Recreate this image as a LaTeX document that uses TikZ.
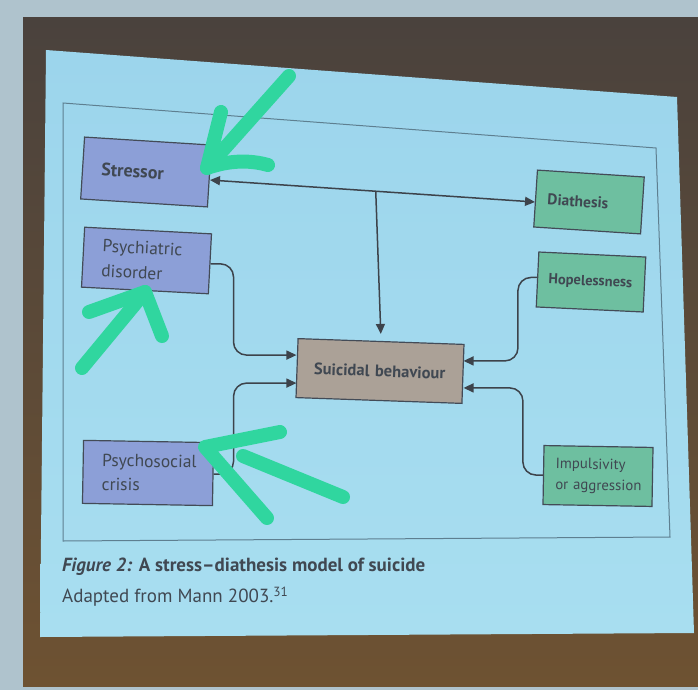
\documentclass[tikz,border=0pt]{standalone}
\usepackage{fontspec}
\setmainfont{PT Sans}
\usetikzlibrary{arrows.meta}
\definecolor{bgtex}{HTML}{AFC3CD}
\definecolor{brownTop}{HTML}{4A423D}
\definecolor{brownBot}{HTML}{6E5232}
\definecolor{screenTop}{HTML}{9CD5EC}
\definecolor{screenBot}{HTML}{A8DEF0}
\definecolor{framec}{HTML}{5E7F90}
\definecolor{boxline}{HTML}{434B57}
\definecolor{txt}{HTML}{404852}
\definecolor{blueb}{HTML}{8C9FD7}
\definecolor{greenb}{HTML}{6EBFA0}
\definecolor{taupe}{HTML}{ABA197}
\definecolor{conn}{HTML}{3D434B}
\definecolor{annot}{HTML}{30D69F}
\tikzset{
  box/.style={draw=boxline, line width=1.2pt, text=txt, inner ysep=0pt,
    align=left, font=\fontsize{14.5}{22}\selectfont},
  conn/.style={draw=conn, line width=1.5pt, rounded corners=13pt,
    -{Triangle[length=10pt,width=9pt]}},
  ann/.style={draw=annot, line width=14pt, line cap=round, line join=round},
  captext/.style={anchor=west, inner sep=0pt, text=txt}
}
\begin{document}
\begin{tikzpicture}[x=1pt,y=-1pt]
\useasboundingbox (0,0) rectangle (698,690);
\fill[bgtex] (0,0) rectangle (698,690);
\shade[top color=brownTop,bottom color=brownBot] (23,18) rectangle (698,686);
\shade[top color=screenTop,bottom color=screenBot]
  (46,50) -- (677,97) -- (694,633) -- (40,637) -- cycle;
\draw[framec, line width=1pt] (63,103) -- (656,148) -- (670,537) -- (63,541) -- cycle;

% boxes
\node[box, fill=blueb, rotate=-3.6, minimum width=127pt, minimum height=62pt,
  text width=89pt, inner xsep=19pt, font=\fontsize{18}{25}\selectfont\bfseries]
  (str) at (146,172) {Stressor};
\node[box, fill=blueb, rotate=-3, minimum width=127pt, minimum height=60pt,
  text width=89pt, inner xsep=19pt, font=\fontsize{17.5}{25}\selectfont]
  (psy) at (146.5,260.5) {Psychiatric\\disorder};
\node[box, fill=blueb, rotate=-1, minimum width=130pt, minimum height=63pt,
  text width=92pt, inner xsep=19pt, font=\fontsize{17.5}{24}\selectfont]
  (psc) at (148,473) {Psychosocial\\crisis};
\node[box, fill=greenb, rotate=-3.7, minimum width=107pt, minimum height=57pt,
  text width=83pt, inner xsep=12pt, font=\fontsize{15.5}{22}\selectfont\bfseries]
  (dia) at (589,202) {Diathesis};
\node[box, fill=greenb, rotate=-2.7, minimum width=107pt, minimum height=55pt,
  text width=85pt, inner xsep=11pt, font=\fontsize{14.5}{22}\selectfont\bfseries]
  (hop) at (591,282) {Hopelessness};
\node[box, fill=greenb, rotate=-1, minimum width=109pt, minimum height=59pt,
  text width=85pt, inner xsep=12pt, font=\fontsize{14.8}{21}\selectfont]
  (imp) at (598,476) {\mbox{Impulsivity}\\\mbox{or aggression}};
\node[box, fill=taupe, rotate=-2, minimum width=166pt, minimum height=59pt,
  text width=132pt, inner xsep=17pt, font=\fontsize{16.5}{22}\selectfont\bfseries]
  (sui) at (380,371) {Suicidal behaviour};

% connectors
\draw[conn, {Triangle[length=10pt,width=9pt]}-{Triangle[length=10pt,width=9pt]}, rounded corners=0pt]
  ([yshift=-4pt]str.east) -- coordinate[pos=0.51] (j) ([yshift=-3.5pt]dia.west);
\draw[conn, shorten >=7pt] (j) -- (sui.north);
\draw[conn] (psy.east) -- ++(23,0) |- ([yshift=13pt]sui.west);
\draw[conn] (psc.east) -- ++(20,0) |- ([yshift=-15pt]sui.west);
\draw[conn] ([yshift=2pt]hop.west) -- ++(-19,0) |- ([yshift=13pt]sui.east);
\draw[conn] (imp.west) -- ++(-20,0) |- ([yshift=-14pt]sui.east);

% caption
\node[captext, font=\fontsize{19}{22}\selectfont\bfseries] (cap1) at (62,567)
  {\textit{Figure 2:} A stress--diathesis model of suicide};
\node[captext, font=\fontsize{19}{22}\selectfont] (cap2) at (62,597)
  {Adapted from Mann 2003.\textsuperscript{31}};

% hand-drawn annotations
\draw[ann] (289,76) -- (207,168);
\draw[ann] (221,112) -- (207,168) .. controls (230,160) and (250,160) .. (268,165);
\draw[ann] (82,368) -- (145,292);
\draw[ann] (89,312) -- (145,292) -- (162,336);
\draw[ann] (280,432) .. controls (250,438) .. (205,447) -- (267,518);
\draw[ann] (243,456) -- (343,497);
\end{tikzpicture}
\end{document}
